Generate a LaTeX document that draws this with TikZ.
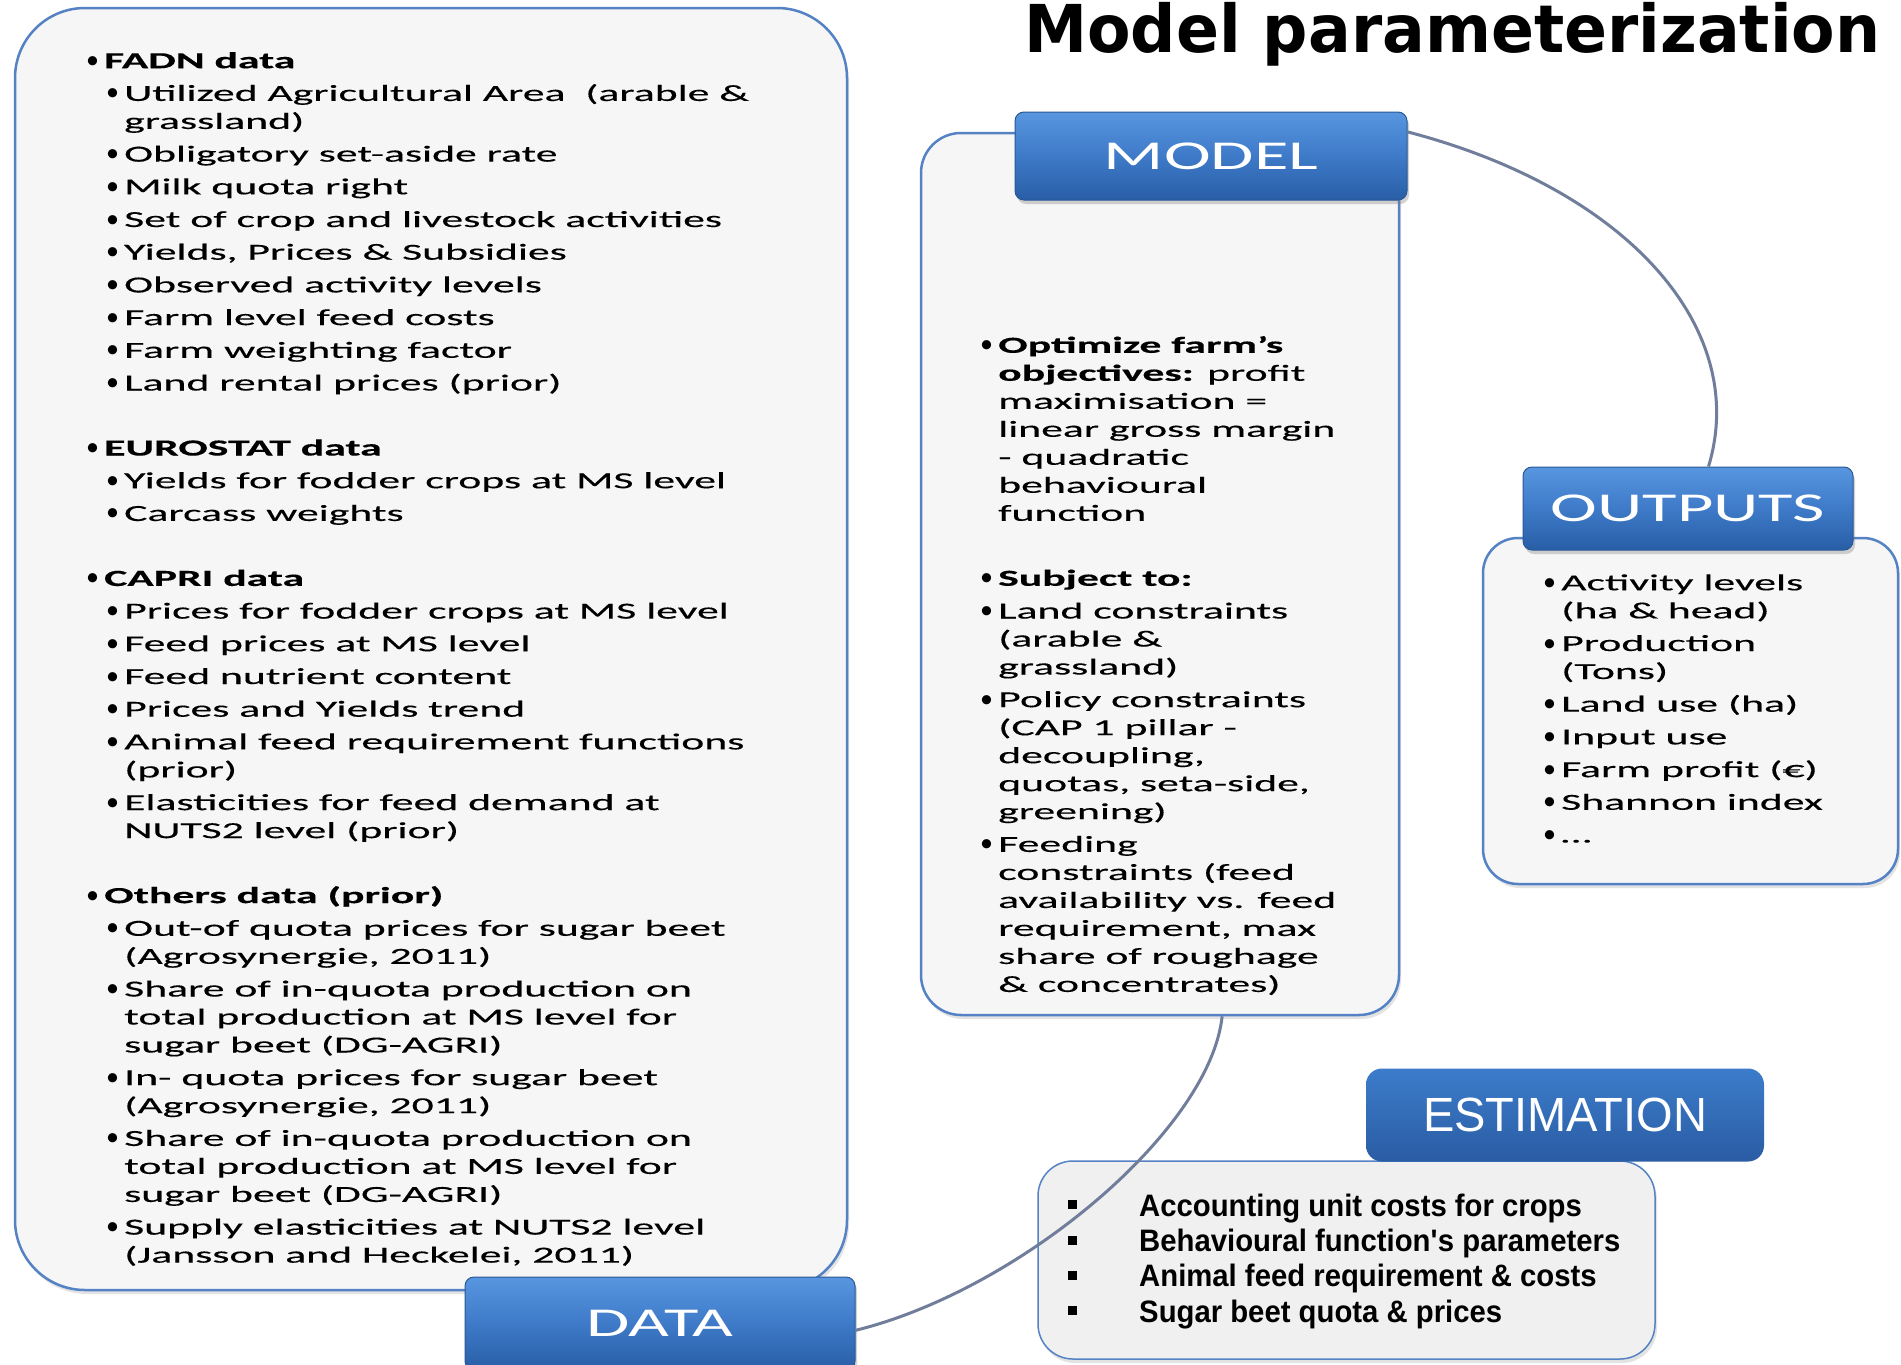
\documentclass[tikz,border=0pt]{standalone}
\usepackage{fontspec}
\usetikzlibrary{shadows}
\newfontfamily\bodyf[FakeStretch=1.9,FakeBold=0.3]{Carlito}
\newfontfamily\bulf{Carlito}
\newfontfamily\headf[FakeStretch=1.72]{Carlito}
\newfontfamily\titlef[FakeStretch=0.96]{DejaVu Sans}
\newfontfamily\arialf[FakeStretch=0.945]{Liberation Sans}
\newfontfamily\estf[FakeStretch=0.98]{Liberation Sans}
\definecolor{boxfill}{RGB}{246,246,246}
\definecolor{estfill}{RGB}{240,240,240}
\definecolor{boxline}{RGB}{84,130,196}
\definecolor{hdtop}{RGB}{88,150,224}
\definecolor{hdmid}{RGB}{62,122,200}
\definecolor{hdbot}{RGB}{40,94,166}
\definecolor{hdline}{RGB}{42,88,150}
\definecolor{esttop}{RGB}{60,124,202}
\definecolor{estbot}{RGB}{42,92,164}
\definecolor{conn}{RGB}{112,126,156}
\newcommand\bul{{\bulf\fontsize{26}{28}\selectfont\textbullet}}
\newcommand\bu{\makebox[18pt][l]{\bul}}
\newcommand\sbu{\hspace*{20pt}\makebox[18pt][l]{\bul}}
\newcommand\ind{\hspace*{18pt}}
\newcommand\sind{\hspace*{38pt}}
\newcommand\sqb{\makebox[71pt][l]{\rule[7pt]{9pt}{9pt}}}
\tikzset{
  panel/.style={draw=boxline, line width=2.5pt, fill=boxfill, rounded corners=#1,
    inner sep=0pt, drop shadow={opacity=0.22, shadow xshift=2pt, shadow yshift=-4pt}},
  header/.style={rounded corners=9pt, top color=hdtop, bottom color=hdbot, middle color=hdmid,
    draw=hdline, line width=1pt, text=white, inner sep=0pt,
    font=\headf\fontsize{41}{41}\selectfont,
    drop shadow={opacity=0.35, shadow xshift=2pt, shadow yshift=-4pt}},
  esthead/.style={rounded corners=16pt, top color=esttop, bottom color=estbot,
    text=white, inner sep=0pt, font=\estf\fontsize{48}{48}\selectfont},
  bodytext/.style={align=left, inner sep=0pt, text=black,
    font=\bodyf\fontsize{23}{28}\selectfont},
  conn/.style={draw=conn, line width=3pt},
}
\begin{document}
\begin{tikzpicture}[x=1pt, y=-1pt]
\useasboundingbox (0,0) rectangle (1901,1365);
\fill[white] (0,0) rectangle (1901,1365);

% panels
\node[panel=70pt, minimum width=832pt, minimum height=1282pt] (databox) at (431,649) {};
\node[header, minimum width=390pt, minimum height=93pt] (data) at (660,1323.5) {DATA};
\node[panel=40pt, minimum width=478pt, minimum height=882pt] (modelbox) at (1160,574) {};
\node[header, minimum width=392pt, minimum height=88pt] (model) at (1211,156) {MODEL};
\node[panel=35pt, minimum width=415pt, minimum height=346pt] (outbox) at (1690.5,711) {};
\node[header, minimum width=330pt, minimum height=83pt] (outputs) at (1688,508.5) {OUTPUTS};
\node[panel=35pt, fill=estfill, line width=1.5pt, minimum width=617pt, minimum height=198pt] (estbox) at (1346.5,1260) {};
\node[esthead, minimum width=398pt, minimum height=93pt] (est) at (1565,1115) {ESTIMATION};

% connectors
\draw[conn] (model.7) .. controls (1630,190) and (1750,330) .. (outputs.64);
\draw[conn] (modelbox.-82.5) .. controls (1210,1130) and (1020,1290) .. (data.-2);

% title
\node[anchor=base west, inner sep=0pt, font=\titlef\bfseries\fontsize{66}{66}\selectfont] (title) at (1024,52) {Model parameterization};

% data text
\node[bodytext, anchor=north west] (datatext) at (86,48.4) {%
\strut\bu\textbf{FADN data}\\[4.7pt]
\sbu Utilized Agricultural Area~ (arable \&\\
\sind grassland)\\[4.7pt]
\sbu Obligatory set-aside rate\\[4.7pt]
\sbu Milk quota right\\[4.7pt]
\sbu Set of crop and livestock activities\\[4.7pt]
\sbu Yields, Prices \& Subsidies\\[4.7pt]
\sbu Observed activity levels\\[4.7pt]
\sbu Farm level feed costs\\[4.7pt]
\sbu Farm weighting factor\\[4.7pt]
\sbu Land rental prices (prior)\\[37pt]
\bu\textbf{EUROSTAT data}\\[4.7pt]
\sbu Yields for fodder crops at MS level\\[4.7pt]
\sbu Carcass weights\\[37pt]
\bu\textbf{CAPRI data}\\[4.7pt]
\sbu Prices for fodder crops at MS level\\[4.7pt]
\sbu Feed prices at MS level\\[4.7pt]
\sbu Feed nutrient content\\[4.7pt]
\sbu Prices and Yields trend\\[4.7pt]
\sbu Animal feed requirement functions\\
\sind (prior)\\[4.7pt]
\sbu Elasticities for feed demand at\\
\sind NUTS2 level (prior)\\[37pt]
\bu\textbf{Others data (prior)}\\[4.7pt]
\sbu Out-of quota prices for sugar beet\\
\sind (Agrosynergie, 2011)\\[4.7pt]
\sbu Share of in-quota production on\\
\sind total production at MS level for\\
\sind sugar beet (DG-AGRI)\\[4.7pt]
\sbu In- quota prices for sugar beet\\
\sind (Agrosynergie, 2011)\\[4.7pt]
\sbu Share of in-quota production on\\
\sind total production at MS level for\\
\sind sugar beet (DG-AGRI)\\[4.7pt]
\sbu Supply elasticities at NUTS2 level\\
\sind (Jansson and Heckelei, 2011)};

% model text
\node[bodytext, anchor=north west] (modeltext) at (980,333) {%
\strut\bu\textbf{Optimize farm’s}\\
\ind\textbf{objectives:} profit\\
\ind maximisation =\\
\ind linear gross margin\\
\ind - quadratic\\
\ind behavioural\\
\ind function\\[37pt]
\bu\textbf{Subject to:}\\[4.7pt]
\bu Land constraints\\
\ind (arable \&\\
\ind grassland)\\[4.7pt]
\bu Policy constraints\\
\ind (CAP 1 pillar -\\
\ind decoupling,\\
\ind quotas, seta-side,\\
\ind greening)\\[4.7pt]
\bu Feeding\\
\ind constraints (feed\\
\ind availability vs. feed\\
\ind requirement, max\\
\ind share of roughage\\
\ind \& concentrates)};

% outputs text
\node[bodytext, anchor=north west] (outtext) at (1543,570.5) {%
\strut\bu Activity levels\\
\ind (ha \& head)\\[4.7pt]
\bu Production\\
\ind (Tons)\\[4.7pt]
\bu Land use (ha)\\[4.7pt]
\bu Input use\\[4.7pt]
\bu Farm profit (€)\\[4.7pt]
\bu Shannon index\\[4.7pt]
\bu …};

% estimation text
\node[anchor=north west, align=left, inner sep=0pt, font=\arialf\bfseries\fontsize{31}{35.3}\selectfont] (esttext) at (1068,1191.3) {%
\strut\sqb Accounting unit costs for crops\\
\sqb Behavioural function\textquotesingle s parameters\\
\sqb Animal feed requirement \& costs\\
\sqb Sugar beet quota \& prices};
\end{tikzpicture}
\end{document}
